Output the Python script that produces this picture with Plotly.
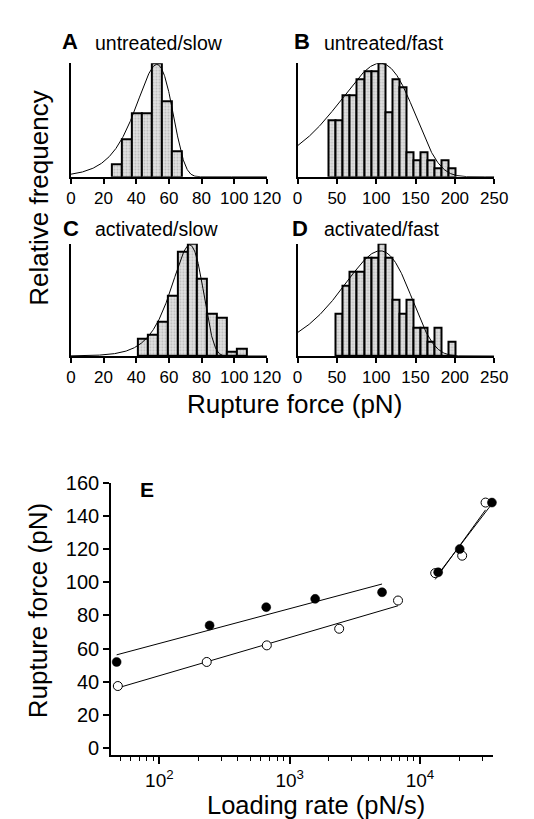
import numpy as np
import plotly.graph_objects as go

FONT = "Liberation Sans, Arial, Helvetica, sans-serif"
W, H = 534, 819

# ---------------- Histogram data (rupture force, pN; relative frequency) ----------------
a_edges = [25.0, 31.15, 37.3, 43.45, 49.6, 55.75, 61.9]
a_freq = [1, 3, 5, 5, 9, 6, 2]
a_binw = 6.15

b_edges = [40.0, 48.9, 57.8, 66.7, 75.6, 84.5, 93.4, 102.3, 111.2, 120.1,
           129.0, 137.9, 146.8, 155.7, 164.6, 173.5, 182.4, 191.3]
b_freq = [7, 7, 10, 10, 12, 13, 13, 14, 8, 12, 11, 3, 2, 3, 2, 1, 2, 1]
b_binw = 8.9

c_edges = [40.8, 46.9, 53.0, 59.1, 65.2, 71.3, 77.4, 83.5, 89.6, 95.7, 101.8]
c_freq = [4.6, 5.65, 9.05, 16.1, 27.75, 30.0, 20.65, 11.3, 10.2, 1.0, 2.05]
c_binw = 6.1

d_edges = [48.9, 57.8, 66.7, 75.6, 84.5, 93.4, 102.3, 111.2, 120.1, 129.0,
           137.9, 146.8, 155.7, 164.6, 173.5, 182.4, 191.3]
d_freq = [3, 5, 6, 6, 7, 7, 8, 7, 4, 3, 4, 2, 2, 1, 2, 0, 1]
d_binw = 8.9

# fitted rupture-force distributions: (most probable force, width, peak height)
a_fit = (52.6, 11.0, 8.9)
b_fit = (105.0, 48.0, 14.0)
c_fit = (72.7, 9.5, 29.7)
d_fit = (105.0, 43.5, 7.5)

panel_letters = ["A", "B", "C", "D"]
panel_titles = ["untreated/slow", "untreated/fast", "activated/slow", "activated/fast"]

# ---------------- Panel E data ----------------
filled_rate = [47, 243, 661, 1570, 5120, 13800, 20200, 35700]
filled_force = [52, 74, 85, 90, 94, 106, 120, 148]
open_rate = [48, 231, 668, 2400, 6790, 13100, 21100, 31900]
open_force = [37.5, 52, 62, 72, 89, 105.5, 116, 148]
n_low = 5  # first five points belong to the slow-loading regime

e_major = [100, 1000, 10000]
e_major_text = ["10<sup>2</sup>", "10<sup>3</sup>", "10<sup>4</sup>"]
e_minor = [50, 60, 70, 80, 90, 200, 300, 400, 500, 600, 700, 800, 900,
           2000, 3000, 4000, 5000, 6000, 7000, 8000, 9000, 20000, 30000]


def px(x):
    return x / W


def py(y):
    return 1 - y / H


def gumbel(x, mode, w, peak):
    z = (x - mode) / w
    return peak * np.exp(z - np.exp(z) + 1)


fig = go.Figure()

hist = [
    (a_edges, a_freq, a_binw, a_fit, 120, 20, "x", "y"),
    (b_edges, b_freq, b_binw, b_fit, 250, 50, "x2", "y2"),
    (c_edges, c_freq, c_binw, c_fit, 120, 20, "x3", "y3"),
    (d_edges, d_freq, d_binw, d_fit, 250, 50, "x4", "y4"),
]
xdom = {0: [px(60), px(263.3)], 1: [px(295), px(499)]}
ydom = {0: [py(160.7), py(45)], 1: [py(343.3), py(229)]}

layout = dict(
    width=W, height=H, margin=dict(l=0, r=0, t=0, b=0),
    paper_bgcolor="white", plot_bgcolor="white", showlegend=False,
    font=dict(family=FONT, color="black"), bargap=0,
)

for i, (edges, freq, bw, fit, xmax, dt, xa, ya) in enumerate(hist):
    centers = [e + bw / 2 for e in edges]
    fig.add_trace(go.Bar(
        x=centers, y=freq, width=bw, xaxis=xa, yaxis=ya,
        marker=dict(color="#d6d6d6", line=dict(color="black", width=2),
                    pattern=dict(shape=".", fgcolor="#8f8f8f", bgcolor="#e2e2e2",
                                 size=3, solidity=0.35)),
    ))
    xs = np.linspace(0, xmax, 500)
    fig.add_trace(go.Scatter(
        x=xs, y=gumbel(xs, *fit), mode="lines", xaxis=xa, yaxis=ya,
        line=dict(color="black", width=1),
    ))
    col, row = i % 2, i // 2
    ax_id = "" if i == 0 else str(i + 1)
    peak = max(max(freq), fit[2])
    layout["xaxis" + ax_id] = dict(
        domain=xdom[col], anchor=ya, range=[0, xmax], tick0=0, dtick=dt,
        showline=True, linecolor="black", linewidth=1.8, ticks="outside",
        ticklen=5, tickwidth=1.5, tickcolor="black", showgrid=False, zeroline=False,
        tickfont=dict(size=17, family=FONT, color="black"),
    )
    layout["yaxis" + ax_id] = dict(
        domain=ydom[row], anchor=xa, range=[0, peak], showline=True,
        linecolor="black", linewidth=1.8, showticklabels=False, ticks="",
        showgrid=False, zeroline=False,
    )

# ---------------- Panel E ----------------
lx_f = np.log10(filled_rate)
lx_o = np.log10(open_rate)
segments = [
    (lx_f[:n_low], filled_force[:n_low]),
    (lx_o[:n_low], open_force[:n_low]),
    (lx_f[n_low:], filled_force[n_low:]),
    (lx_o[n_low:], open_force[n_low:]),
]
for lx, fy in segments:
    k, b0 = np.polyfit(lx, fy, 1)
    xl = np.array([lx.min(), lx.max()])
    fig.add_trace(go.Scatter(
        x=10 ** xl, y=k * xl + b0, mode="lines", xaxis="x5", yaxis="y5",
        line=dict(color="black", width=1),
    ))

fig.add_trace(go.Scatter(
    x=open_rate, y=open_force, mode="markers", xaxis="x5", yaxis="y5",
    cliponaxis=False,
    marker=dict(symbol="circle", size=9, color="white", line=dict(color="black", width=1)),
))
fig.add_trace(go.Scatter(
    x=filled_rate, y=filled_force, mode="markers", xaxis="x5", yaxis="y5",
    cliponaxis=False,
    marker=dict(symbol="circle", size=9, color="black", line=dict(color="black", width=0.5)),
))

layout["xaxis5"] = dict(
    domain=[px(101.7), px(497.9)], anchor="y5", type="log",
    range=[np.log10(42.6), np.log10(36500)],
    tickmode="array", tickvals=e_major, ticktext=e_major_text,
    showline=True, linecolor="black", linewidth=1.8, ticks="outside",
    ticklen=7, tickwidth=1.5, tickcolor="black", showgrid=False, zeroline=False,
    tickfont=dict(size=19, family=FONT, color="black"),
    minor=dict(tickmode="array", tickvals=e_minor, ticks="outside", ticklen=4,
               tickwidth=1.2, tickcolor="black", showgrid=False),
)
layout["yaxis5"] = dict(
    domain=[py(750), py(472.3)], anchor="x5", range=[-4.2, 160], tick0=0, dtick=20,
    showline=True, linecolor="black", linewidth=1.8, ticks="outside", ticklen=6,
    tickwidth=1.5, tickcolor="black", showgrid=False, zeroline=False,
    tickfont=dict(size=20, family=FONT, color="black"),
)

ann = []
letter_pos = [(59, 23), (300, 23), (60, 213), (298, 213)]
title_pos = [(83, 24), (320, 24), (83, 214), (320, 214)]
for (lxp, lyp), (txp, typ), L, T in zip(letter_pos, title_pos, panel_letters, panel_titles):
    ann.append(dict(x=px(lxp), y=py(lyp), xref="paper", yref="paper", text="<b>%s</b>" % L,
                    showarrow=False, xanchor="center", yanchor="middle",
                    font=dict(size=22, family=FONT, color="black")))
    ann.append(dict(x=px(txp), y=py(typ), xref="paper", yref="paper", text=T,
                    showarrow=False, xanchor="left", yanchor="middle",
                    font=dict(size=19.5, family=FONT, color="black")))

ann.append(dict(x=px(27.5), y=py(182.5), xref="paper", yref="paper", text="Relative frequency",
                showarrow=False, textangle=-90, xanchor="center", yanchor="middle",
                font=dict(size=26, family=FONT, color="black")))
ann.append(dict(x=px(291.7), y=py(392.5), xref="paper", yref="paper", text="Rupture force (pN)",
                showarrow=False, xanchor="center", yanchor="middle",
                font=dict(size=26, family=FONT, color="black")))
ann.append(dict(x=px(139), y=py(479), xref="paper", yref="paper", text="<b>E</b>",
                showarrow=False, xanchor="center", yanchor="middle",
                font=dict(size=21, family=FONT, color="black")))
ann.append(dict(x=px(26.7), y=py(602.5), xref="paper", yref="paper", text="Rupture force (pN)",
                showarrow=False, textangle=-90, xanchor="center", yanchor="middle",
                font=dict(size=26, family=FONT, color="black")))
ann.append(dict(x=px(314), y=py(817), xref="paper", yref="paper", text="Loading rate (pN/s)",
                showarrow=False, xanchor="center", yanchor="bottom",
                font=dict(size=25.5, family=FONT, color="black")))
layout["annotations"] = ann

fig.update_layout(**layout)
fig.write_html("out.html")
